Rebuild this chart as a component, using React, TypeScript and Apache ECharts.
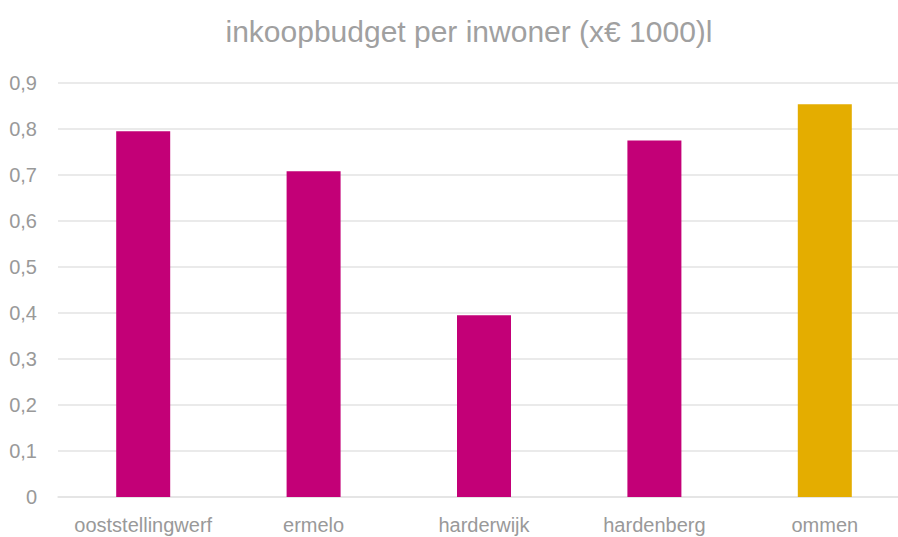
import React, { useEffect, useRef } from "react";
import * as echarts from "echarts";

const categories = ["ooststellingwerf", "ermelo", "harderwijk", "hardenberg", "ommen"];
const values = [0.795, 0.708, 0.395, 0.775, 0.854];
const barColors = ["#C30077", "#C30077", "#C30077", "#C30077", "#E4AD00"];
const titleText = "inkoopbudget per inwoner (x€ 1000)l";

const FONT = "'Liberation Sans Narrow', 'Arial Narrow', 'Liberation Sans', sans-serif";

export default function App() {
  const ref = useRef<HTMLDivElement>(null);
  useEffect(() => {
    if (!ref.current) return;
    const chart = echarts.init(ref.current, undefined, { renderer: "svg" });
    chart.setOption({
      animation: false,
      backgroundColor: "#ffffff",
      title: {
        text: titleText,
        left: 464,
        textAlign: "center",
        top: 11,
        textStyle: { color: "#A0A0A0", fontSize: 30, fontWeight: "normal", fontFamily: FONT },
      },
      grid: { left: 58, top: 83, width: 852, height: 414, containLabel: false },
      xAxis: {
        type: "category",
        data: categories,
        axisLine: { show: true, lineStyle: { color: "#E3E3E3", width: 1.5 } },
        axisTick: { show: false },
        axisLabel: { color: "#999999", fontSize: 20, fontFamily: FONT, margin: 18, interval: 0 },
      },
      yAxis: {
        type: "value",
        min: 0,
        max: 0.9,
        interval: 0.1,
        axisLine: { show: false },
        axisTick: { show: false },
        splitLine: { lineStyle: { color: "#E3E3E3", width: 1.5 } },
        axisLabel: {
          color: "#999999",
          fontSize: 20,
          fontFamily: FONT,
          margin: 21,
          formatter: (v: number) => (Math.round(v * 10) / 10).toString().replace(".", ","),
        },
      },
      series: [
        {
          type: "bar",
          barWidth: 54,
          data: values.map((v, i) => ({ value: v, itemStyle: { color: barColors[i] } })),
        },
      ],
    });
    return () => chart.dispose();
  }, []);
  return (
    <div
      style={{ position: "absolute", left: 0, top: 0, width: 898, height: 537, overflow: "hidden", background: "#fff" }}
    >
      <div ref={ref} style={{ width: 930, height: 537 }} />
    </div>
  );
}
